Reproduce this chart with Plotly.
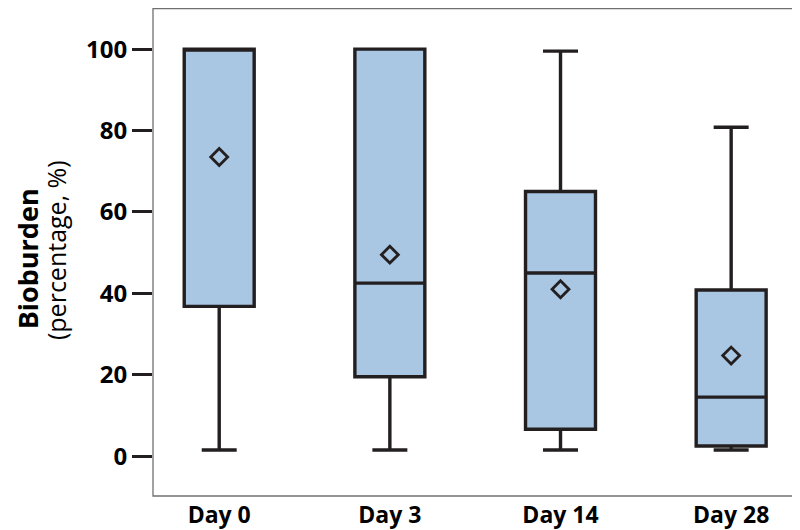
import plotly.graph_objects as go

days = ["Day 0", "Day 3", "Day 14", "Day 28"]
lower = [1.5, 1.5, 1.5, 1.5]
q1 = [36.8, 19.5, 6.6, 2.5]
median = [100, 42.5, 45.0, 14.5]
q3 = [100, 100, 65.0, 40.8]
upper = [100, 100, 99.5, 80.8]
means = [73.5, 49.5, 41.0, 24.7]

dark = "#231f20"
fill = "#a9c6e2"

fig = go.Figure()

fig.add_trace(go.Box(
    x=days, q1=q1, median=median, q3=q3,
    lowerfence=lower, upperfence=upper,
    fillcolor=fill, line=dict(color=dark, width=3.4),
    whiskerwidth=0.5, width=0.41, boxpoints=False,
    hoverinfo="skip", showlegend=False,
))

fig.add_trace(go.Scatter(
    x=days, y=means, mode="markers",
    marker=dict(symbol="diamond-open", size=13, color=dark, line=dict(width=2.8, color=dark)),
    showlegend=False, hoverinfo="skip",
))

# frame around the plot area
fig.add_shape(
    type="rect", xref="paper", yref="paper",
    x0=0, x1=1, y0=0, y1=0.999,
    line=dict(color="#707070", width=1.3), layer="above",
)

# two-line y title
fig.add_annotation(
    text="<b>Bioburden</b>", textangle=-90, showarrow=False,
    xref="paper", yref="paper", x=0, y=0.485, xshift=-126,
    xanchor="center", yanchor="middle",
    font=dict(size=27, family="Open Sans", color="black"),
)
fig.add_annotation(
    text="(percentage, %)", textangle=-90, showarrow=False,
    xref="paper", yref="paper", x=0, y=0.504, xshift=-97,
    xanchor="center", yanchor="middle",
    font=dict(size=25, family="Open Sans", color="black"),
)

fig.update_layout(
    width=800, height=530,
    margin=dict(l=145, r=12, t=0, b=42),
    plot_bgcolor="white", paper_bgcolor="white",
    font=dict(family="Open Sans", color="black"),
)

fig.update_xaxes(
    range=[-0.388, 3.38], automargin=False,
    showline=False, ticks="", showgrid=False, ticklabelstandoff=3,
    tickfont=dict(size=23, family="Open Sans", weight="bold"),
)
fig.update_yaxes(
    range=[-9.8, 110.1], automargin=False,
    tickvals=[0, 20, 40, 60, 80, 100],
    showline=False,
    ticks="outside", ticklen=20, tickwidth=2.5, tickcolor=dark,
    showgrid=False, zeroline=False,
    tickfont=dict(size=24, family="Open Sans", weight="bold"),
)

fig.write_html("out.html")
